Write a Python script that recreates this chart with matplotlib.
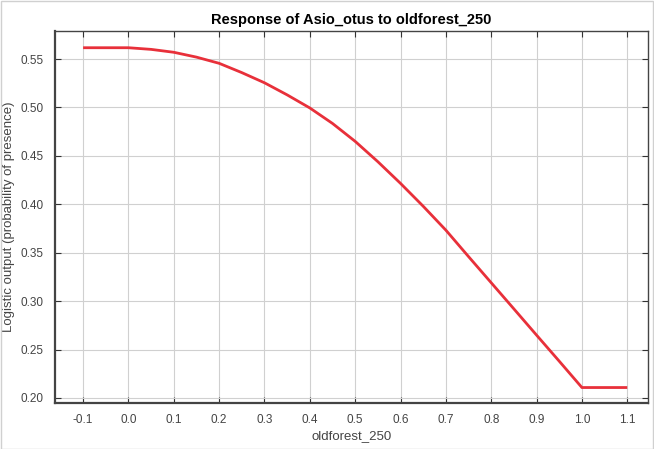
import numpy as np
import matplotlib
matplotlib.use("Agg")
import matplotlib.pyplot as plt

plt.rcParams['font.family'] = ['Liberation Sans', 'DejaVu Sans']

# response curve
xvals = [-0.1, 0.0, 0.05, 0.1, 0.15, 0.2, 0.25, 0.3, 0.35, 0.4, 0.45, 0.5,
         0.55, 0.6, 0.65, 0.7, 0.75, 0.8, 0.85, 0.9, 0.95, 1.0, 1.1]
yvals = [0.5617, 0.5617, 0.560, 0.557, 0.552, 0.5456, 0.536, 0.5255, 0.513,
         0.4995, 0.4835, 0.4650, 0.444, 0.4216, 0.398, 0.3733, 0.346, 0.319,
         0.292, 0.2649, 0.238, 0.2108, 0.2108]
xticks = [-0.1, 0.0, 0.1, 0.2, 0.3, 0.4, 0.5, 0.6, 0.7, 0.8, 0.9, 1.0, 1.1]
yticks = [0.20, 0.25, 0.30, 0.35, 0.40, 0.45, 0.50, 0.55]

fig = plt.figure(figsize=(6.54, 4.49), dpi=100)
ax = fig.add_axes([0.0841, 0.1024, 0.9069, 0.8286])

ax.plot(xvals, yvals, color="#e8303a", lw=2.0, solid_capstyle="butt",
        solid_joinstyle="round")

ax.set_xlim(-0.162, 1.146)
ax.set_ylim(0.1948, 0.579)
ax.set_xticks(xticks)
ax.set_xticklabels(["{:.1f}".format(v) for v in xticks])
ax.set_yticks(yticks)
ax.set_yticklabels(["{:.2f}".format(v) for v in yticks])

ax.grid(True, color="#d0d0d0", lw=0.8)
ax.tick_params(direction="in", length=4, top=True, right=True,
               labelsize=8.5, labelcolor="#444444", color="#333333", pad=8)
for s in ax.spines.values():
    s.set_color("#444444")
    s.set_linewidth(1.0)
ax.spines["bottom"].set_linewidth(1.6)
ax.spines["left"].set_linewidth(1.6)

ax.set_title("Response of Asio_otus to oldforest_250", fontsize=10.5,
             fontweight="bold", pad=5)
ax.set_xlabel("oldforest_250", fontsize=9.5, color="#444444", labelpad=3)
ax.set_ylabel("Logistic output (probability of presence)", fontsize=9.5,
              color="#444444", labelpad=4)

# light frame round the whole figure
fig.patches.append(plt.Rectangle((0.001, 0.001), 0.997, 0.997,
                                 transform=fig.transFigure, fill=False,
                                 edgecolor="#d0d0d0", lw=1))

fig.savefig("out.png", dpi=100)
